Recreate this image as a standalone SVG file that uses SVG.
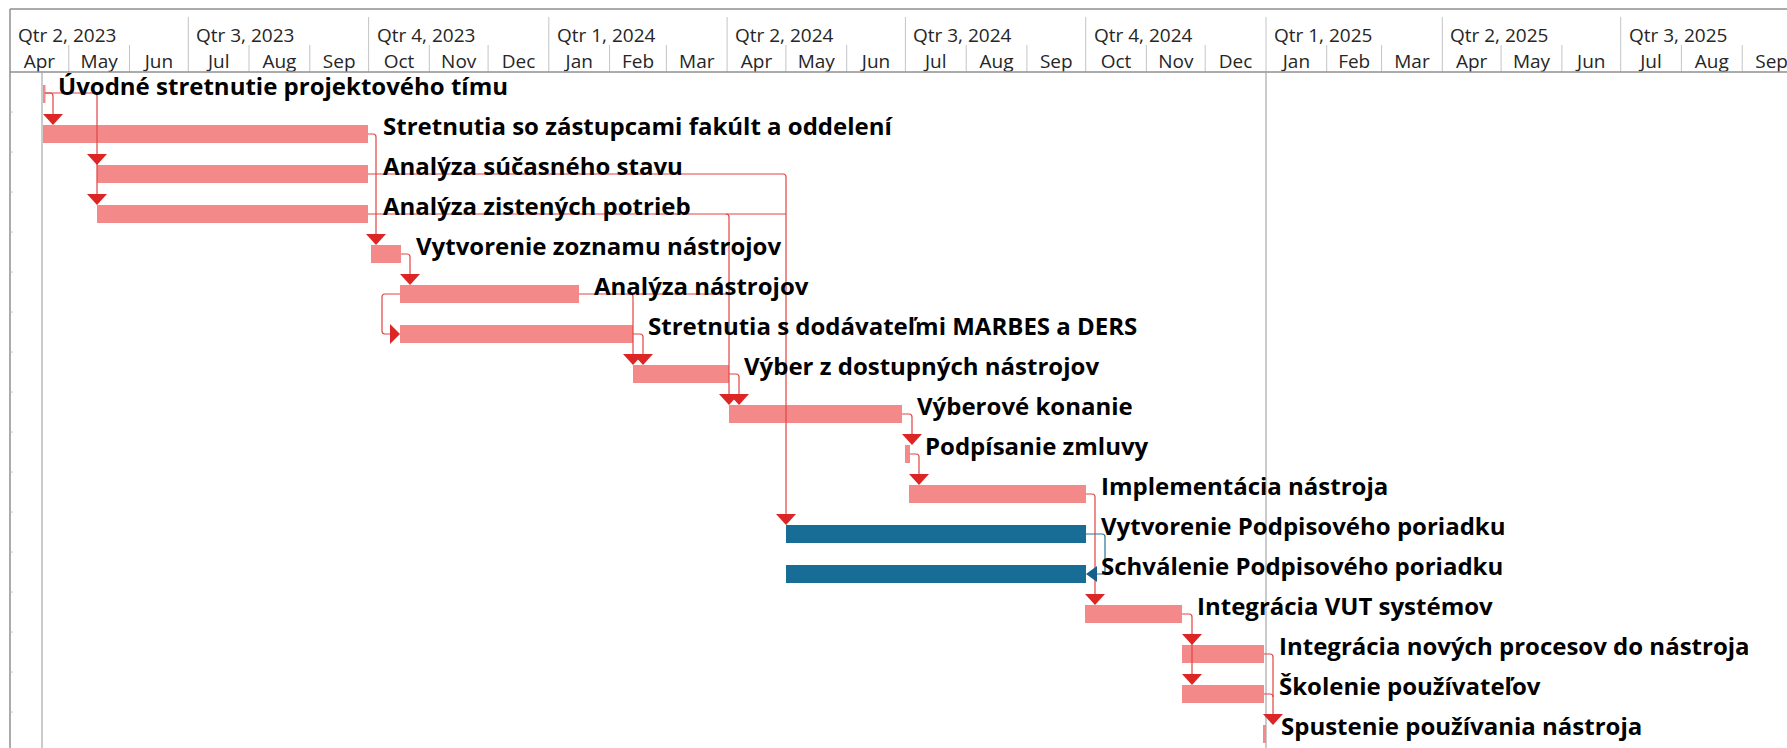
<svg xmlns="http://www.w3.org/2000/svg" xmlns:xlink="http://www.w3.org/1999/xlink" width="1787" height="748" viewBox="0 0 1787 748">
  <style>
    .hdr { font-family: "Open Sans", "Noto Sans", sans-serif; font-size: 19px; fill: #262626; }
    .mo { text-anchor: middle; }
    .lbl { font-family: "Open Sans", "Noto Sans", sans-serif; font-weight: 700; font-size: 24px; fill: #000; }
    .bar { fill: #F4898A; }
    .blue { fill: #176D95; }
    .ln { fill: none; stroke: #E24444; stroke-width: 1.2; }
    .lnb { fill: none; stroke: #2B6F98; stroke-width: 1.2; }
    .ah { fill: #DC2525; }
    .ahb { fill: #16608A; }
    .grid { stroke: #c4c4c4; stroke-width: 1; }
    .frame { stroke: #8f8f8f; stroke-width: 1.5; }
    .vline { stroke: #a8a8a8; stroke-width: 1.2; }
  </style>
  <defs>
    <path id="arrDown" d="M-10,-11 L10,-11 L0,0 Z"/>
    <path id="arrRight" d="M-10,-10 L0,0 L-10,10 Z"/>
    <path id="arrLeft" d="M11,-8 L0,0 L11,8 Z"/>
  </defs>

  <rect width="1787" height="748" fill="#fff"/>

  <!-- timescale header -->
  <g id="timescale">
    <g class="grid">
      <!-- quarter dividers -->
      <line x1="188.3" y1="17" x2="188.3" y2="72"/>
      <line x1="368.6" y1="17" x2="368.6" y2="72"/>
      <line x1="548.8" y1="17" x2="548.8" y2="72"/>
      <line x1="727.1" y1="17" x2="727.1" y2="72"/>
      <line x1="905.4" y1="17" x2="905.4" y2="72"/>
      <line x1="1085.7" y1="17" x2="1085.7" y2="72"/>
      <line x1="1266" y1="17" x2="1266" y2="72"/>
      <line x1="1442.3" y1="17" x2="1442.3" y2="72"/>
      <line x1="1620.7" y1="17" x2="1620.7" y2="72"/>
      <!-- month dividers -->
      <line x1="68.8" y1="45" x2="68.8" y2="72"/>
      <line x1="129.5" y1="45" x2="129.5" y2="72"/>
      <line x1="249" y1="45" x2="249" y2="72"/>
      <line x1="309.8" y1="45" x2="309.8" y2="72"/>
      <line x1="429.3" y1="45" x2="429.3" y2="72"/>
      <line x1="488.1" y1="45" x2="488.1" y2="72"/>
      <line x1="609.6" y1="45" x2="609.6" y2="72"/>
      <line x1="666.4" y1="45" x2="666.4" y2="72"/>
      <line x1="785.9" y1="45" x2="785.9" y2="72"/>
      <line x1="846.7" y1="45" x2="846.7" y2="72"/>
      <line x1="966.2" y1="45" x2="966.2" y2="72"/>
      <line x1="1026.9" y1="45" x2="1026.9" y2="72"/>
      <line x1="1146.4" y1="45" x2="1146.4" y2="72"/>
      <line x1="1205.2" y1="45" x2="1205.2" y2="72"/>
      <line x1="1326.7" y1="45" x2="1326.7" y2="72"/>
      <line x1="1381.6" y1="45" x2="1381.6" y2="72"/>
      <line x1="1501.1" y1="45" x2="1501.1" y2="72"/>
      <line x1="1561.9" y1="45" x2="1561.9" y2="72"/>
      <line x1="1681.4" y1="45" x2="1681.4" y2="72"/>
      <line x1="1742.2" y1="45" x2="1742.2" y2="72"/>
    </g>
    <g class="hdr">
      <text x="18" y="42">Qtr 2, 2023</text>
      <text x="196" y="42">Qtr 3, 2023</text>
      <text x="377" y="42">Qtr 4, 2023</text>
      <text x="557" y="42">Qtr 1, 2024</text>
      <text x="735" y="42">Qtr 2, 2024</text>
      <text x="913" y="42">Qtr 3, 2024</text>
      <text x="1094" y="42">Qtr 4, 2024</text>
      <text x="1274" y="42">Qtr 1, 2025</text>
      <text x="1450" y="42">Qtr 2, 2025</text>
      <text x="1629" y="42">Qtr 3, 2025</text>
    </g>
    <g class="hdr mo">
      <text x="39.4" y="68">Apr</text>
      <text x="99.2" y="68">May</text>
      <text x="158.9" y="68">Jun</text>
      <text x="218.7" y="68">Jul</text>
      <text x="279.4" y="68">Aug</text>
      <text x="339.2" y="68">Sep</text>
      <text x="399" y="68">Oct</text>
      <text x="458.7" y="68">Nov</text>
      <text x="518.5" y="68">Dec</text>
      <text x="579.2" y="68">Jan</text>
      <text x="638" y="68">Feb</text>
      <text x="696.8" y="68">Mar</text>
      <text x="756.5" y="68">Apr</text>
      <text x="816.3" y="68">May</text>
      <text x="876" y="68">Jun</text>
      <text x="935.8" y="68">Jul</text>
      <text x="996.6" y="68">Aug</text>
      <text x="1056.3" y="68">Sep</text>
      <text x="1116" y="68">Oct</text>
      <text x="1175.8" y="68">Nov</text>
      <text x="1235.6" y="68">Dec</text>
      <text x="1296.4" y="68">Jan</text>
      <text x="1354.2" y="68">Feb</text>
      <text x="1412" y="68">Mar</text>
      <text x="1471.7" y="68">Apr</text>
      <text x="1531.5" y="68">May</text>
      <text x="1591.3" y="68">Jun</text>
      <text x="1651" y="68">Jul</text>
      <text x="1711.8" y="68">Aug</text>
      <text x="1771.6" y="68">Sep</text>
    </g>
    <g class="frame">
      <line x1="10" y1="9" x2="1787" y2="9"/>
      <line x1="10" y1="9" x2="10" y2="748"/>
      <line x1="10" y1="72" x2="1787" y2="72"/>
    </g>
  </g>

  <!-- chart body guides: project start, current date, row ticks -->
  <g id="guides">
    <line class="vline" x1="42" y1="72" x2="42" y2="748"/>
    <line class="vline" x1="1266" y1="72" x2="1266" y2="748"/>
    <g class="grid">
      <line x1="10" y1="112" x2="13" y2="112"/>
      <line x1="10" y1="152" x2="13" y2="152"/>
      <line x1="10" y1="192" x2="13" y2="192"/>
      <line x1="10" y1="232" x2="13" y2="232"/>
      <line x1="10" y1="272" x2="13" y2="272"/>
      <line x1="10" y1="312" x2="13" y2="312"/>
      <line x1="10" y1="352" x2="13" y2="352"/>
      <line x1="10" y1="392" x2="13" y2="392"/>
      <line x1="10" y1="432" x2="13" y2="432"/>
      <line x1="10" y1="472" x2="13" y2="472"/>
      <line x1="10" y1="512" x2="13" y2="512"/>
      <line x1="10" y1="552" x2="13" y2="552"/>
      <line x1="10" y1="592" x2="13" y2="592"/>
      <line x1="10" y1="632" x2="13" y2="632"/>
      <line x1="10" y1="672" x2="13" y2="672"/>
      <line x1="10" y1="712" x2="13" y2="712"/>
    </g>
  </g>

  <!-- task bars -->
  <g id="task1"><rect class="bar" x="43" y="85" width="2.5" height="18"/></g>
  <g id="task2"><rect class="bar" x="43" y="125" width="325" height="18"/></g>
  <g id="task3"><rect class="bar" x="97" y="165" width="271" height="18"/></g>
  <g id="task4"><rect class="bar" x="97" y="205" width="271" height="18"/></g>
  <g id="task5"><rect class="bar" x="371" y="245" width="30" height="18"/></g>
  <g id="task6"><rect class="bar" x="400" y="285" width="179" height="18"/></g>
  <g id="task7"><rect class="bar" x="400" y="325" width="233" height="18"/></g>
  <g id="task8"><rect class="bar" x="633" y="365" width="96" height="18"/></g>
  <g id="task9"><rect class="bar" x="729" y="405" width="173" height="18"/></g>
  <g id="task10"><rect class="bar" x="905" y="445" width="5" height="18"/></g>
  <g id="task11"><rect class="bar" x="909" y="485" width="177" height="18"/></g>
  <g id="task12"><rect class="blue" x="786" y="525" width="300" height="18"/></g>
  <g id="task13"><rect class="blue" x="786" y="565" width="300" height="18"/></g>
  <g id="task14"><rect class="bar" x="1085" y="605" width="97" height="18"/></g>
  <g id="task15"><rect class="bar" x="1182" y="645" width="82" height="18"/></g>
  <g id="task16"><rect class="bar" x="1182" y="685" width="82" height="18"/></g>
  <g id="task17"><rect class="bar" x="1263" y="725" width="3" height="18"/></g>

  <!-- dependency links -->
  <g id="links">
    <path class="ln" d="M45,93 H50 Q53,93 53,96 V115"/>
    <path class="ln" d="M45,93 H94 Q97,93 97,96 V195"/>
    <path class="ln" d="M368,134 H373 Q376,134 376,137 V235"/>
    <path class="ln" d="M368,174 H783 Q786,174 786,177 V515"/>
    <path class="ln" d="M368,214 H786"/>
    <path class="ln" d="M726,214 Q729,214 729,217 V395"/>
    <path class="ln" d="M401,254 H407 Q410,254 410,257 V275"/>
    <path class="ln" d="M400,294 H385 Q382,294 382,297 V331 Q382,334 385,334 H391"/>
    <path class="ln" d="M579,294 H729"/>
    <path class="ln" d="M630,294 Q633,294 633,297 V355"/>
    <path class="ln" d="M633,334 H640 Q643,334 643,337 V355"/>
    <path class="ln" d="M729,374 H736 Q739,374 739,377 V395"/>
    <path class="ln" d="M902,414 H909 Q912,414 912,417 V435"/>
    <path class="ln" d="M910,454 H916 Q919,454 919,457 V475"/>
    <path class="ln" d="M1086,494 H1092 Q1095,494 1095,497 V595"/>
    <path class="lnb" d="M1086,534 H1102 Q1105,534 1105,537 V571 Q1105,574 1102,574 H1096"/>
    <path class="ln" d="M1182,614 H1189 Q1192,614 1192,617 V675"/>
    <path class="ln" d="M1264,654 H1270 Q1273,654 1273,657 V715"/>
    <path class="ln" d="M1264,694 H1270 Q1273,694 1273,697"/>

    <g class="ah">
      <use xlink:href="#arrDown" x="53" y="125"/>
      <use xlink:href="#arrDown" x="97" y="165"/>
      <use xlink:href="#arrDown" x="97" y="205"/>
      <use xlink:href="#arrDown" x="376" y="245"/>
      <use xlink:href="#arrDown" x="410" y="285"/>
      <use xlink:href="#arrRight" x="400" y="334"/>
      <use xlink:href="#arrDown" x="633" y="365"/>
      <use xlink:href="#arrDown" x="643" y="365"/>
      <use xlink:href="#arrDown" x="729" y="405"/>
      <use xlink:href="#arrDown" x="739" y="405"/>
      <use xlink:href="#arrDown" x="912" y="445"/>
      <use xlink:href="#arrDown" x="919" y="485"/>
      <use xlink:href="#arrDown" x="786" y="525"/>
      <use xlink:href="#arrDown" x="1095" y="605"/>
      <use xlink:href="#arrDown" x="1192" y="645"/>
      <use xlink:href="#arrDown" x="1192" y="685"/>
      <use xlink:href="#arrDown" x="1273" y="725"/>
    </g>
    <use class="ahb" xlink:href="#arrLeft" x="1086" y="574"/>
  </g>

  <!-- task names -->
  <g id="labels" class="lbl">
    <text x="58" y="95">Úvodné stretnutie projektového tímu</text>
    <text x="383" y="135">Stretnutia so zástupcami fakúlt a oddelení</text>
    <text x="383" y="175">Analýza súčasného stavu</text>
    <text x="383" y="215">Analýza zistených potrieb</text>
    <text x="416" y="255">Vytvorenie zoznamu nástrojov</text>
    <text x="594" y="295">Analýza nástrojov</text>
    <text x="648" y="335">Stretnutia s dodávateľmi MARBES a DERS</text>
    <text x="744" y="375">Výber z dostupných nástrojov</text>
    <text x="917" y="415">Výberové konanie</text>
    <text x="925" y="455">Podpísanie zmluvy</text>
    <text x="1101" y="495">Implementácia nástroja</text>
    <text x="1101" y="535">Vytvorenie Podpisového poriadku</text>
    <text x="1101" y="575">Schválenie Podpisového poriadku</text>
    <text x="1197" y="615">Integrácia VUT systémov</text>
    <text x="1279" y="655">Integrácia nových procesov do nástroja</text>
    <text x="1279" y="695">Školenie používateľov</text>
    <text x="1281" y="735">Spustenie používania nástroja</text>
  </g>
</svg>
